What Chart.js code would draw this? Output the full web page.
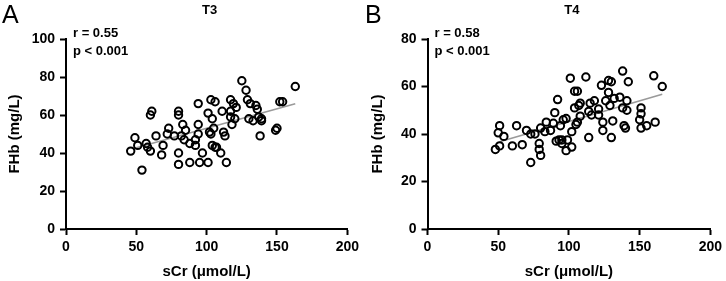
<!DOCTYPE html>
<html>
<head>
<meta charset="utf-8">
<script src="https://cdn.jsdelivr.net/npm/chart.js@4"></script>
<style>
  html, body { margin: 0; padding: 0; background: #fff; }
  .row { display: flex; width: 726px; height: 281px; }
  canvas { display: block; }
</style>
</head>
<body>
<div class="row">
  <canvas id="chartT3" width="363" height="281"></canvas>
  <canvas id="chartT4" width="363" height="281"></canvas>
</div>
<script>
// T3 panel: sCr (umol/L) vs FHb (mg/L)
const t3Scr = [46, 49, 51, 54, 57, 58, 60, 60, 61, 64, 68, 69, 73, 72, 77, 80, 80, 80, 80, 82, 83, 84, 85, 88, 88,
    92, 92, 94, 94, 94, 95, 97, 101, 101, 102, 103, 103, 104, 104, 105, 106, 106, 107, 110, 111, 112, 113, 114,
    117, 117, 117, 118, 119, 120, 121, 125, 128, 129, 130, 131, 133, 135, 136, 137, 138, 139, 139, 149, 150, 152, 154, 163];
const t3Fhb = [41, 48, 44, 31, 45, 43, 41, 60, 62, 49, 39, 44, 53, 50, 49, 62, 60, 40, 34, 49, 55, 47, 52, 45, 35,
    44, 47, 50, 66, 55, 35, 40, 61, 35, 51, 68, 50, 58, 44, 53, 67, 43, 43, 40, 62, 51, 49, 35,
    68, 62, 59, 55, 66, 58, 64, 78, 73, 68, 58, 66, 57, 65, 63, 59, 49, 58, 57, 52, 53, 67, 67, 75];
const t3FitX = [48, 163];
const t3FitY = [42.4, 65.9];

// T4 panel
const t4Scr = [48, 50, 51, 51, 54, 60, 63, 67, 70, 73, 73, 76, 79, 79, 80, 80, 83, 84, 87, 89, 90, 91, 92, 93, 94,
    95, 95, 96, 98, 98, 99, 101, 102, 102, 104, 106, 104, 105, 106, 107, 108, 108, 112, 114, 114, 115, 116,
    118, 121, 121, 123, 124, 124, 126, 128, 128, 130, 129, 130, 131, 132, 136, 138, 138, 139, 140, 141, 141,
    142, 150, 151, 151, 151, 155, 160, 161, 166];
const t4Fhb = [33.5, 40.5, 43.5, 35, 39, 35, 43.5, 35.5, 41.5, 28, 40, 40, 36, 33.5, 31, 42.5, 41, 45, 41.5, 44.5, 49, 37, 54.5, 37.5, 43.5,
    37.5, 36, 46, 46.5, 33, 37.5, 63.5, 34.5, 41, 58, 58, 51, 44, 45, 52, 53, 47.5, 64, 38.5, 49.5, 53, 48,
    54, 50.5, 48, 60.5, 45, 41.5, 54, 57.5, 62.5, 62, 52, 38.5, 45.5, 55, 55.5, 66.5, 51, 43.5, 42.5, 50, 54,
    62, 46, 42.5, 48.5, 51, 43.5, 64.5, 45, 60];
const t4FitX = [51, 166];
const t4FitY = [36.7, 56.7];

const FONT = "'Liberation Sans', Arial, sans-serif";

function toPoints(xs, ys) {
    return xs.map((x, i) => ({ x: x, y: ys[i] }));
}

/**
 * Draws the panel letter, panel title and the r / p annotation.
 */
const panelText = {
    id: 'panelText',
    afterDraw(chart, args, opts) {
        const ctx = chart.ctx;
        const area = chart.chartArea;
        ctx.save();
        ctx.fillStyle = '#000';
        ctx.textBaseline = 'top';

        ctx.font = '25px ' + FONT;
        ctx.textAlign = 'left';
        ctx.fillText(opts.letter, 2, 4);

        ctx.font = 'bold 13px ' + FONT;
        ctx.textAlign = 'center';
        ctx.fillText(opts.title, (area.left + area.right) / 2 + 3, 4);

        ctx.font = 'bold 13px ' + FONT;
        ctx.textAlign = 'left';
        ctx.fillText(opts.r, area.left + 7, 27);
        ctx.fillText(opts.p, area.left + 7, 45);
        ctx.restore();
    }
};

function makeChart(id, opts) {
    const ctx = document.getElementById(id).getContext('2d');
    return new Chart(ctx, {
        type: 'scatter',
        data: {
            datasets: [
                {
                    data: toPoints(opts.xs, opts.ys),
                    pointStyle: 'circle',
                    pointRadius: 3.7,
                    pointBorderWidth: 2,
                    borderColor: '#000',
                    backgroundColor: 'rgba(0,0,0,0)',
                    showLine: false
                },
                {
                    data: toPoints(opts.fitX, opts.fitY),
                    showLine: true,
                    borderColor: '#9a9a9a',
                    borderWidth: 1.6,
                    pointRadius: 0
                }
            ]
        },
        options: {
            responsive: false,
            animation: false,
            layout: { padding: { top: 39, right: 12, left: 0, bottom: 0 } },
            plugins: {
                legend: { display: false },
                tooltip: { enabled: false },
                panelText: { letter: opts.letter, title: opts.title, r: opts.r, p: 'p < 0.001' }
            },
            scales: {
                x: {
                    type: 'linear',
                    min: 0,
                    max: 200,
                    afterFit: s => { s.height = 52; },
                    ticks: {
                        stepSize: 50,
                        color: '#000',
                        padding: 4,
                        font: { family: FONT, size: 14, weight: 'bold' }
                    },
                    grid: {
                        drawOnChartArea: false,
                        tickLength: 6,
                        tickColor: '#000',
                        tickWidth: 2
                    },
                    border: { color: '#000', width: 2 },
                    title: {
                        display: true,
                        text: 'sCr (μmol/L)',
                        color: '#000',
                        padding: { top: 2, bottom: 0 },
                        font: { family: FONT, size: 15, weight: 'bold' }
                    }
                },
                y: {
                    type: 'linear',
                    min: 0,
                    max: opts.yMax,
                    afterFit: s => { s.width = opts.yWidth; },
                    ticks: {
                        stepSize: 20,
                        color: '#000',
                        padding: 5,
                        font: { family: FONT, size: 14, weight: 'bold' }
                    },
                    grid: {
                        drawOnChartArea: false,
                        tickLength: 6,
                        tickColor: '#000',
                        tickWidth: 2
                    },
                    border: { color: '#000', width: 2 },
                    title: {
                        display: true,
                        text: 'FHb (mg/L)',
                        color: '#000',
                        padding: { top: 6, bottom: 0 },
                        font: { family: FONT, size: 15, weight: 'bold' }
                    }
                }
            }
        },
        plugins: [panelText]
    });
}

makeChart('chartT3', {
    xs: t3Scr, ys: t3Fhb, fitX: t3FitX, fitY: t3FitY,
    yMax: 100, yWidth: 66, letter: 'A', title: 'T3', r: 'r = 0.55'
});
makeChart('chartT4', {
    xs: t4Scr, ys: t4Fhb, fitX: t4FitX, fitY: t4FitY,
    yMax: 80, yWidth: 64.5, letter: 'B', title: 'T4', r: 'r = 0.58'
});
</script>
</body>
</html>
